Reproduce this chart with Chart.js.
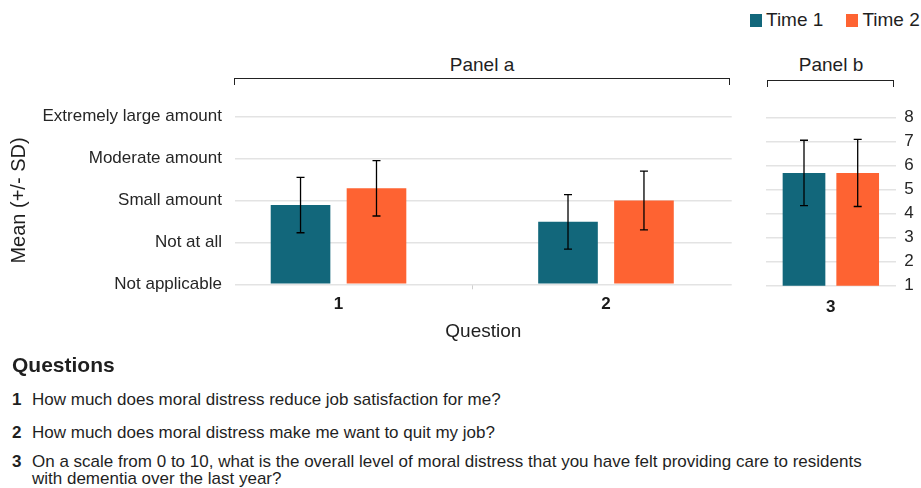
<!DOCTYPE html>
<html>
<head>
<meta charset="utf-8">
<script src="https://cdn.jsdelivr.net/npm/chart.js@4/dist/chart.umd.min.js"></script>
<style>
  html, body { margin:0; padding:0; background:#fff; }
  body { width:921px; height:488px; position:relative; overflow:hidden;
         font-family:"Liberation Sans", Arial, sans-serif; color:#1f1f1f; }
  .abs { position:absolute; white-space:nowrap; }
  .legend { top:9px; left:750px; font-size:19px; line-height:22px; display:flex; align-items:center; }
  .legend .sw { display:inline-block; width:12px; height:13px; margin-right:4px; }
  .legend .item { display:flex; align-items:center; margin-right:23px; }
  .panel-label { font-size:19px; line-height:22px; transform:translateX(-50%); }
  .bracket { border:1.5px solid #222; border-bottom:none; height:6px; }
  .q-head { left:12px; top:353px; font-size:21px; font-weight:bold; line-height:24px; }
  .q { left:12px; font-size:17px; line-height:20px; }
  .q b { display:inline-block; width:20px; }
  .wrap { position:absolute; }
</style>
</head>
<body>
<div class="abs legend" id="legend"></div>

<div class="abs panel-label" style="left:482px; top:54px;">Panel a</div>
<div class="abs bracket" style="left:234px; top:78px; width:494px;"></div>
<div class="abs panel-label" style="left:831px; top:54px;">Panel b</div>
<div class="abs bracket" style="left:767px; top:80px; width:125px;"></div>

<div class="wrap" style="left:0; top:90px; width:745px; height:265px;"><canvas id="chartA"></canvas></div>
<div class="wrap" style="left:750px; top:90px; width:171px; height:265px;"><canvas id="chartB"></canvas></div>

<div class="abs q-head">Questions</div>
<div id="qlist"></div>

<script>
// panel a: questions 1 and 2 on the answer scale
const QUESTIONS_A = ['1', '2'];
const LEVELS = ['Not applicable', 'Not at all', 'Small amount', 'Moderate amount', 'Extremely large amount'];
const T1_MEAN_A = [1.89, 1.49];
const T1_SD_A   = [0.66, 0.65];
const T2_MEAN_A = [2.29, 2.00];
const T2_SD_A   = [0.66, 0.70];

// panel b: question 3 on the 0-10 scale
const QUESTIONS_B = ['3'];
const T1_MEAN_B = [5.70];
const T1_SD_B   = [1.36];
const T2_MEAN_B = [5.70];
const T2_SD_B   = [1.40];
const TICKS_B = [1, 2, 3, 4, 5, 6, 7, 8];

const SERIES = ['Time 1', 'Time 2'];
const COLORS = ['#12677b', '#fe6332'];

const QUESTION_TEXT = [
  'How much does moral distress reduce job satisfaction for me?',
  'How much does moral distress make me want to quit my job?',
  'On a scale from 0 to 10, what is the overall level of moral distress that you have felt providing care to residents<br>with dementia over the last year?',
];

Chart.defaults.font.family = '"Liberation Sans", Arial, sans-serif';
Chart.defaults.color = '#262626';

// error bars (mean +/- sd) drawn through the y scale
const errorBars = {
  id: 'errorBars',
  afterDatasetsDraw(chart) {
    const ctx = chart.ctx;
    const y = chart.scales.y;
    chart.data.datasets.forEach((ds, i) => {
      const meta = chart.getDatasetMeta(i);
      meta.data.forEach((bar, j) => {
        const mean = meta.controller.getParsed(j).y;
        const sd = ds.sd[j];
        const top = y.getPixelForValue(mean + sd);
        const bot = y.getPixelForValue(mean - sd);
        ctx.save();
        ctx.strokeStyle = '#000';
        ctx.lineWidth = 1.3;
        ctx.beginPath();
        ctx.moveTo(bar.x, top); ctx.lineTo(bar.x, bot);
        ctx.moveTo(bar.x - 4, top); ctx.lineTo(bar.x + 4, top);
        ctx.moveTo(bar.x - 4, bot); ctx.lineTo(bar.x + 4, bot);
        ctx.stroke();
        ctx.restore();
      });
    });
  }
};

const GRID = '#e3e3e3';

new Chart(document.getElementById('chartA'), {
  type: 'bar',
  data: {
    datasets: [
      { label: SERIES[0], backgroundColor: COLORS[0], sd: T1_SD_A,
        data: QUESTIONS_A.map((q, i) => ({ x: i + 1, y: T1_MEAN_A[i] })) },
      { label: SERIES[1], backgroundColor: COLORS[1], sd: T2_SD_A,
        data: QUESTIONS_A.map((q, i) => ({ x: i + 1, y: T2_MEAN_A[i] })) },
    ]
  },
  options: {
    responsive: true, maintainAspectRatio: false, animation: false,
    // bar ruler uses the half-step tick spacing, hence > 1
    categoryPercentage: 1.136, barPercentage: 0.785,
    layout: { padding: { top: 26.7, right: 13.3, left: 0, bottom: 0 } },
    plugins: { legend: { display: false }, tooltip: { enabled: false } },
    scales: {
      x: {
        type: 'linear', min: 0.613, max: 2.47, offset: false,
        afterBuildTicks: s => { s.ticks = [1, 1.5, 2].map(v => ({ value: v })); },
        afterFit: s => { s.height = 70.7; },
        ticks: { padding: 5, font: { size: 17, weight: 'bold' }, color: '#1a1a1a',
                 callback: v => Number.isInteger(v) ? QUESTIONS_A[v - 1] : '' },
        grid: { offset: false, drawOnChartArea: false, drawTicks: true, tickLength: 5, lineWidth: 1,
                color: c => (c.tick && c.tick.value === 1.5) ? '#cfcfcf' : 'rgba(0,0,0,0)' },
        border: { display: false },
        title: { display: true, text: 'Question', font: { size: 19 }, color: '#1f1f1f',
                 padding: { top: 0, bottom: 11.6 } },
      },
      y: {
        min: 0, max: 4,
        afterFit: s => { s.width = 235; },
        ticks: { stepSize: 1, padding: 13, font: { size: 17 }, color: '#262626',
                 callback: v => LEVELS[v] },
        grid: { color: GRID, lineWidth: 1.5, drawTicks: false },
        border: { display: false },
        title: { display: true, text: 'Mean (+/- SD)', font: { size: 20 }, color: '#1f1f1f',
                 padding: { top: 7.5, bottom: 0 } },
      }
    }
  },
  plugins: [errorBars]
});

new Chart(document.getElementById('chartB'), {
  type: 'bar',
  data: {
    labels: QUESTIONS_B,
    datasets: [
      { label: SERIES[0], backgroundColor: COLORS[0], data: T1_MEAN_B, sd: T1_SD_B },
      { label: SERIES[1], backgroundColor: COLORS[1], data: T2_MEAN_B, sd: T2_SD_B },
    ]
  },
  options: {
    responsive: true, maintainAspectRatio: false, animation: false,
    categoryPercentage: 0.828, barPercentage: 0.795,
    layout: { padding: { top: 27.7, left: 16, right: 0, bottom: 0 } },
    plugins: { legend: { display: false }, tooltip: { enabled: false } },
    scales: {
      x: {
        afterFit: s => { s.height = 69.3; },
        ticks: { padding: 3, font: { size: 17, weight: 'bold' }, color: '#1a1a1a' },
        grid: { display: false },
        border: { display: false },
      },
      y: {
        position: 'right', min: 1, max: 8,
        afterFit: s => { s.width = 25.3; },
        afterBuildTicks: s => { s.ticks = TICKS_B.map(v => ({ value: v })); },
        ticks: { padding: 8.5, font: { size: 17 }, color: '#262626' },
        grid: { color: GRID, lineWidth: 1.5, drawTicks: false },
        border: { display: false },
      }
    }
  },
  plugins: [errorBars]
});

// legend
const legend = document.getElementById('legend');
SERIES.forEach((s, i) => {
  const el = document.createElement('span');
  el.className = 'item';
  el.innerHTML = `<span class="sw" style="background:${COLORS[i]}"></span>${s}`;
  legend.appendChild(el);
});

// question list
const QTOPS = [390, 423, 453];
const qlist = document.getElementById('qlist');
QUESTION_TEXT.forEach((t, i) => {
  const el = document.createElement('div');
  el.className = 'abs q';
  el.style.top = QTOPS[i] + 'px';
  if (i === 2) el.style.lineHeight = '17px';
  el.innerHTML = `<b>${i + 1}</b>${t.replace('<br>', '<br><span style="display:inline-block;width:20px"></span>')}`;
  qlist.appendChild(el);
});
</script>
</body>
</html>
